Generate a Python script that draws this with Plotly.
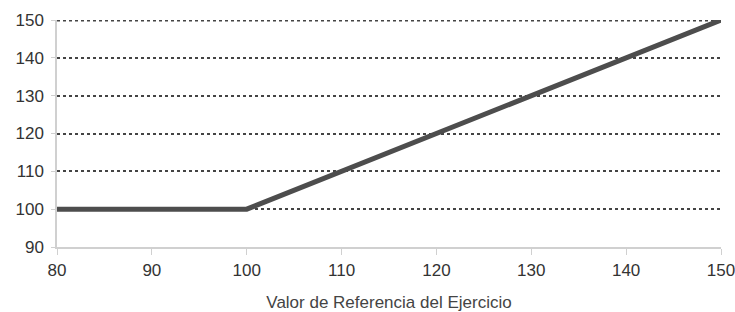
import plotly.graph_objects as go

x_vals = [80, 100, 150]
y_vals = [100, 100, 150]
x_ticks = [80, 90, 100, 110, 120, 130, 140, 150]
y_ticks = [90, 100, 110, 120, 130, 140, 150]
x_title = "Valor de Referencia del Ejercicio"

fig = go.Figure()
fig.add_trace(go.Scatter(x=x_vals, y=y_vals, mode="lines",
                         line=dict(color="#4d4d4d", width=5), showlegend=False))

# top gridline (plotly drops the grid line sitting on the plot edge)
fig.add_shape(type="line", xref="paper", x0=0, x1=1, yref="y",
              y0=y_ticks[-1], y1=y_ticks[-1],
              line=dict(color="#444444", width=3, dash="dot"), layer="below")

fig.update_layout(
    width=735, height=312,
    margin=dict(l=57, r=14, t=20, b=65),
    paper_bgcolor="white", plot_bgcolor="white",
    font=dict(family="Liberation Sans, Arial, sans-serif", size=17, color="#333333"),
)
fig.update_xaxes(
    range=[80, 150], tickvals=x_ticks, showgrid=False,
    showline=True, linecolor="#d0d0d0", linewidth=1.5,
    ticks="outside", ticklen=6, tickcolor="#d0d0d0",
    ticklabelstandoff=1, ticklabeloverflow="allow",
    title=dict(text=x_title, font=dict(size=17, color="#444444"), standoff=19),
    zeroline=False, automargin=False,
)
fig.update_yaxes(
    range=[90, 150], tickvals=y_ticks, showgrid=True,
    gridcolor="#444444", griddash="dot", gridwidth=1.5,
    showline=True, linecolor="#d0d0d0", linewidth=1.5,
    ticks="outside", ticklen=4, tickcolor="#d0d0d0",
    ticklabelstandoff=4, ticklabeloverflow="allow",
    zeroline=False, automargin=False,
)
fig.write_html("out.html", config={"displayModeBar": False},
               post_script="document.body.style.margin='0';document.body.style.overflow='hidden';")
